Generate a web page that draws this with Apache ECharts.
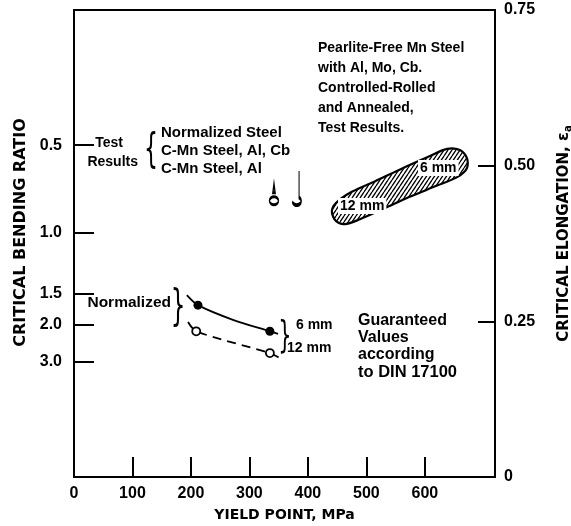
<!DOCTYPE html>
<html><head><meta charset="utf-8">
<script src="https://cdn.jsdelivr.net/npm/echarts@6/dist/echarts.min.js"></script>
<style>html,body{margin:0;padding:0;background:#fff}#c{width:571px;height:526px}</style>
</head><body><div id="c"></div>
<script>
// ---- data ----
const xTickLabels = [0, 100, 200, 300, 400, 500, 600];
const xTickMarks = [100, 200, 300, 400, 500, 600];
const elongTicks = [0, 0.25, 0.5, 0.75];
const bendLabels = ['0.5', '1.0', '1.5', '2.0', '3.0'];
const bendPositions = [0.533, 0.392, 0.295, 0.244, 0.185];

// Normalized, 6 mm (solid line, filled points)
const norm6LineX = [193, 212, 273, 335, 349];
const norm6LineY = [0.292, 0.276, 0.252, 0.234, 0.230];
const norm6PtsX = [212, 335];
const norm6PtsY = [0.276, 0.234];
// Normalized, 12 mm (dashed line, open points)
const norm12LineX = [195, 209, 335, 352];
const norm12LineY = [0.249, 0.234, 0.199, 0.191];
const norm12PtsX = [209, 335];
const norm12PtsY = [0.234, 0.199];
// Test results markers
const testAlX = [342];
const testAlY = [0.454];
const testCbX = [381];
const testCbY = [0.464];
// Pearlite-free Mn steel band (outline)
const blobX = [448, 475, 515, 562, 605, 638, 660, 672, 672, 656, 621, 574, 532, 489, 463, 448, 441];
const blobY = [0.440, 0.458, 0.475, 0.496, 0.514, 0.527, 0.525, 0.512, 0.496, 0.482, 0.468, 0.450, 0.432, 0.414, 0.406, 0.411, 0.426];

const zip = (a, b) => a.map((v, i) => [v, b[i]]);

function hatch() {
  const c = document.createElement('canvas');
  c.width = 4; c.height = 6;
  const g = c.getContext('2d');
  g.strokeStyle = '#000'; g.lineWidth = 1.3;
  g.beginPath();
  g.moveTo(-4, 6); g.lineTo(0, 0);
  g.moveTo(0, 6); g.lineTo(4, 0);
  g.moveTo(4, 6); g.lineTo(8, 0);
  g.stroke();
  return c;
}
const hatchCanvas = hatch();

const lblFont = 'Liberation Sans';

function T(text, x, y, size, extra) {
  const st = Object.assign({
    text: text, x: 0, y: 0, fill: '#000', font: 'bold ' + size + 'px "Liberation Sans"',
    align: 'left', verticalAlign: 'middle', textAlign: 'left', textVerticalAlign: 'middle'
  }, extra || {});
  return { type: 'text', x: x, y: y, z: 100, style: st };
}
function brace(ch, x, y, size) {
  return { type: 'text', x: x, y: y, z: 100, scaleX: 0.55,
    style: { text: ch, x: 0, y: 0, fill: '#000', font: 'normal ' + size + 'px "DejaVu Sans"',
      align: 'center', verticalAlign: 'middle', textAlign: 'center', textVerticalAlign: 'middle' } };
}

const chart = echarts.init(document.getElementById('c'), null, { renderer: 'canvas' });
chart.setOption({
  animation: false,
  backgroundColor: '#fff',
  grid: { left: 74, right: 76, top: 10, bottom: 49, show: true, borderColor: '#000', borderWidth: 2,
    backgroundColor: 'transparent', containLabel: false, outerBoundsMode: 'none' },
  xAxis: {
    type: 'value', min: 0, max: 720,
    name: 'YIELD POINT, MPa', nameLocation: 'middle', nameGap: 31,
    nameTextStyle: { fontFamily: 'DejaVu Sans', fontWeight: 'bold', fontSize: 14, color: '#000' },
    axisLine: { lineStyle: { color: '#000', width: 2 } },
    axisTick: { inside: true, length: 20, customValues: xTickMarks, lineStyle: { color: '#000', width: 2 } },
    axisLabel: { customValues: xTickLabels, margin: 9, color: '#000', fontFamily: lblFont, fontWeight: 'bold', fontSize: 16 },
    splitLine: { show: false }
  },
  yAxis: [
    {
      type: 'value', min: 0, max: 0.75, position: 'left',
      name: 'CRITICAL BENDING RATIO', nameLocation: 'middle', nameGap: 45, nameRotate: 90,
      nameTextStyle: { fontFamily: 'DejaVu Sans', fontWeight: 'bold', fontSize: 16, color: '#000', padding: [0, 0, 0, 22] },
      axisLine: { show: true, lineStyle: { color: '#000', width: 2 } },
      axisTick: { show: true, inside: true, length: 20, customValues: bendPositions, lineStyle: { color: '#000', width: 2 } },
      axisLabel: {
        customValues: bendPositions, margin: 12, color: '#000', fontFamily: lblFont, fontWeight: 'bold', fontSize: 16,
        formatter: function (v) {
          for (let i = 0; i < bendPositions.length; i++) if (Math.abs(bendPositions[i] - v) < 1e-6) return bendLabels[i];
          return '';
        }
      },
      splitLine: { show: false }
    },
    {
      type: 'value', min: 0, max: 0.75, interval: 0.25, position: 'right',
      name: 'CRITICAL ELONGATION, {e|ε}{s|a}', nameLocation: 'middle', nameGap: 60, nameRotate: 90,
      nameTextStyle: { fontFamily: 'DejaVu Sans', fontWeight: 'bold', fontSize: 15, color: '#000', padding: [0, 0, 0, 20],
        rich: { e: { fontFamily: 'DejaVu Sans', fontWeight: 'bold', fontSize: 16, color: '#000' },
                s: { fontFamily: 'DejaVu Sans', fontWeight: 'bold', fontSize: 10, color: '#000', verticalAlign: 'bottom', padding: [8, 0, 0, 0] } } },
      axisLine: { show: true, lineStyle: { color: '#000', width: 2 } },
      axisTick: { show: true, inside: true, length: 17, customValues: [0.25, 0.5], lineStyle: { color: '#000', width: 2 } },
      axisLabel: {
        customValues: elongTicks, margin: 9, color: '#000', fontFamily: lblFont, fontWeight: 'bold', fontSize: 16,
        formatter: v => v === 0 ? '0' : v.toFixed(2)
      },
      splitLine: { show: false }
    }
  ],
  series: [
    {
      type: 'custom', xAxisIndex: 0, yAxisIndex: 1, z: 3,
      data: [[0]],
      renderItem: function (params, api) {
        const pts = blobX.map((x, i) => api.coord([x, blobY[i]]));
        return {
          type: 'polygon',
          shape: { points: pts, smooth: 0.3 },
          style: { fill: { image: hatchCanvas, repeat: 'repeat' }, stroke: '#000', lineWidth: 2.2 }
        };
      }
    },
    {
      type: 'line', xAxisIndex: 0, yAxisIndex: 1, data: zip(norm6LineX, norm6LineY),
      smooth: 0.3, showSymbol: false, lineStyle: { color: '#000', width: 1.8 }, z: 4
    },
    {
      type: 'line', xAxisIndex: 0, yAxisIndex: 1, data: zip(norm12LineX, norm12LineY),
      smooth: 0.3, showSymbol: false, lineStyle: { color: '#000', width: 1.8, type: [9, 6] }, z: 4
    },
    {
      type: 'scatter', xAxisIndex: 0, yAxisIndex: 1, data: zip(norm6PtsX, norm6PtsY),
      symbol: 'circle', symbolSize: 9, itemStyle: { color: '#000', opacity: 1 }, z: 5
    },
    {
      type: 'scatter', xAxisIndex: 0, yAxisIndex: 1, data: zip(norm12PtsX, norm12PtsY),
      symbol: 'circle', symbolSize: 8, itemStyle: { color: '#fff', borderColor: '#000', borderWidth: 1.8, opacity: 1 }, z: 5
    },
    {
      type: 'scatter', xAxisIndex: 0, yAxisIndex: 1, data: zip(testAlX, testAlY),
      symbol: 'path://M5 0 L4 9 L6 9 Z M9 17 A4 4 0 1 1 1 17 A4 4 0 1 1 9 17 Z', symbolSize: [9, 21], symbolKeepAspect: false,
      itemStyle: { color: '#fff', borderColor: '#000', borderWidth: 2, opacity: 1 }, z: 5
    },
    {
      type: 'scatter', xAxisIndex: 0, yAxisIndex: 1, data: zip(testCbX, testCbY),
      symbol: 'path://M8 0 L8 26 A4 4 0 1 1 2 30', symbolSize: [9, 34], symbolKeepAspect: false,
      itemStyle: { color: 'transparent', borderColor: '#000', borderWidth: 2, opacity: 1 }, z: 5
    }
  ],
  graphic: [
    // test results block
    T('Test', 123, 143, 14, { align: 'right', textAlign: 'right' }),
    T('Results', 138, 162, 14, { align: 'right', textAlign: 'right' }),
    brace('{', 151, 152, 40),
    T('Normalized Steel', 161, 133, 15),
    T('C-Mn Steel, Al, Cb', 161, 151, 15),
    T('C-Mn Steel, Al', 161, 169, 15),
    // normalized
    T('Normalized', 171, 303, 15.5, { align: 'right', textAlign: 'right' }),
    brace('}', 178, 309, 42),
    brace('}', 285, 337, 38),
    T('6 mm', 296, 325, 14),
    T('12 mm', 287, 348, 14),
    T('Guaranteed', 358, 321, 16),
    T('Values', 358, 338, 16),
    T('according', 358, 355, 16),
    T('to DIN 17100', 358, 372, 16.5),
    // pearlite block
    T('Pearlite-Free Mn Steel', 318, 48, 14),
    T('with Al, Mo, Cb.', 318, 68, 14),
    T('Controlled-Rolled', 318, 88, 14),
    T('and Annealed,', 318, 108, 14),
    T('Test Results.', 318, 128, 14),
    T('6 mm', 418, 168, 14, { backgroundColor: '#fff', padding: [1, 2, 1, 2] }),
    T('12 mm', 338, 206, 14, { backgroundColor: '#fff', padding: [1, 2, 1, 2] })
  ]
});
</script>
</body></html>
